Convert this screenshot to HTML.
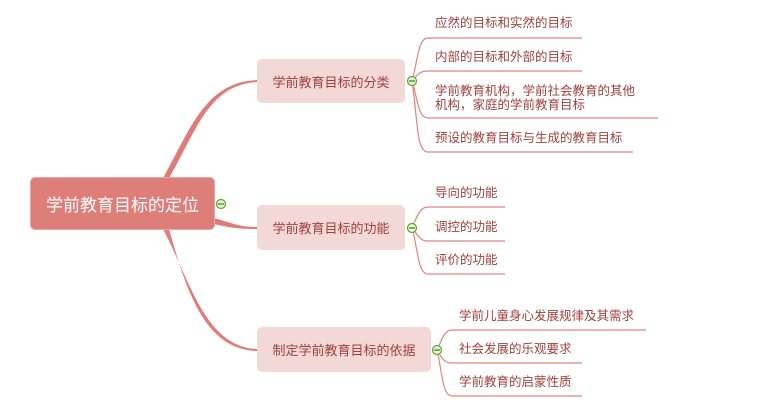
<!DOCTYPE html>
<html><head><meta charset="utf-8"><style>
body{margin:0;background:#fff;width:760px;height:411px;overflow:hidden;position:relative;font-family:"Liberation Sans","Noto Sans CJK SC",sans-serif}
.t{position:absolute;color:#a0413c;font-size:12.5px;white-space:nowrap;line-height:14px}
.b{position:absolute;background:#f2d8d7;border-radius:5px;color:#a0413c;font-size:13px;display:flex;align-items:center;justify-content:center}
</style></head><body>
<svg width="760" height="411" style="position:absolute;left:0;top:0">
<g fill="#de7d78" stroke="none">
<path d="M163,178 C190,130 205,82 257,80 L257,82 C208,85 196,132 169,178 Z"/>
<path d="M214,218 C235,224 240,227 257,227 L257,229 C238,229 232,228 214,224 Z"/>
<path d="M163,229 C190,280 205,347 257,349 L257,351 C203,350 185,285 169,229 Z"/>
</g>
<g fill="none" stroke="#e08580" stroke-width="1.2">
<path d="M412,81 C418,60 418,38 428,38 L582,38"/>
<path d="M412,81 C418,74 420,71 428,71 L582,71"/>
<path d="M412,81 C418,100 418,118 428,118 L658,118"/>
<path d="M412,81 C418,120 416,152 428,152 L633,152"/>
<path d="M412,227 C418,215 420,207 428,207 L505,207"/>
<path d="M412,227 C418,236 420,241 428,241 L505,241"/>
<path d="M412,227 C418,250 418,274 428,274 L505,274"/>
<path d="M437,350 C442,340 444,330 452,330 L646,330"/>
<path d="M437,350 C442,358 444,363 452,363 L582,363"/>
<path d="M437,350 C442,370 442,396 452,396 L582,396"/>
</g>
<g fill="#eaf5dc" stroke="#5aa72a" stroke-width="1.2">
<circle cx="221" cy="204" r="4.5"/><circle cx="412" cy="81" r="4.5"/><circle cx="412" cy="228" r="4.5"/><circle cx="437" cy="350" r="4.5"/>
</g>
<g stroke="#3d7a1a" stroke-width="1.2">
<line x1="218" y1="204" x2="224" y2="204"/><line x1="409" y1="81" x2="415" y2="81"/><line x1="409" y1="228" x2="415" y2="228"/><line x1="434" y1="350" x2="440" y2="350"/>
</g>
</svg>
<div class="b" style="left:30px;top:177px;width:185px;height:53px;background:#dd7e79;color:#fff;font-size:17px;border:1px solid #e9a7a3;box-sizing:border-box">学前教育目标的定位</div>
<div class="b" style="left:257px;top:59px;width:148px;height:44px">学前教育目标的分类</div>
<div class="b" style="left:257px;top:205px;width:148px;height:45px">学前教育目标的功能</div>
<div class="b" style="left:257px;top:327px;width:174px;height:45px">制定学前教育目标的依据</div>
<div class="t" style="left:435px;top:16px">应然的目标和实然的目标</div>
<div class="t" style="left:435px;top:50px">内部的目标和外部的目标</div>
<div class="t" style="left:435px;top:84px">学前教育机构，学前社会教育的其他<br>机构，家庭的学前教育目标</div>
<div class="t" style="left:435px;top:131px">预设的教育目标与生成的教育目标</div>
<div class="t" style="left:435px;top:186px">导向的功能</div>
<div class="t" style="left:435px;top:220px">调控的功能</div>
<div class="t" style="left:435px;top:253px">评价的功能</div>
<div class="t" style="left:459px;top:309px">学前儿童身心发展规律及其需求</div>
<div class="t" style="left:459px;top:342px">社会发展的乐观要求</div>
<div class="t" style="left:459px;top:375px">学前教育的启蒙性质</div>
</body></html>
